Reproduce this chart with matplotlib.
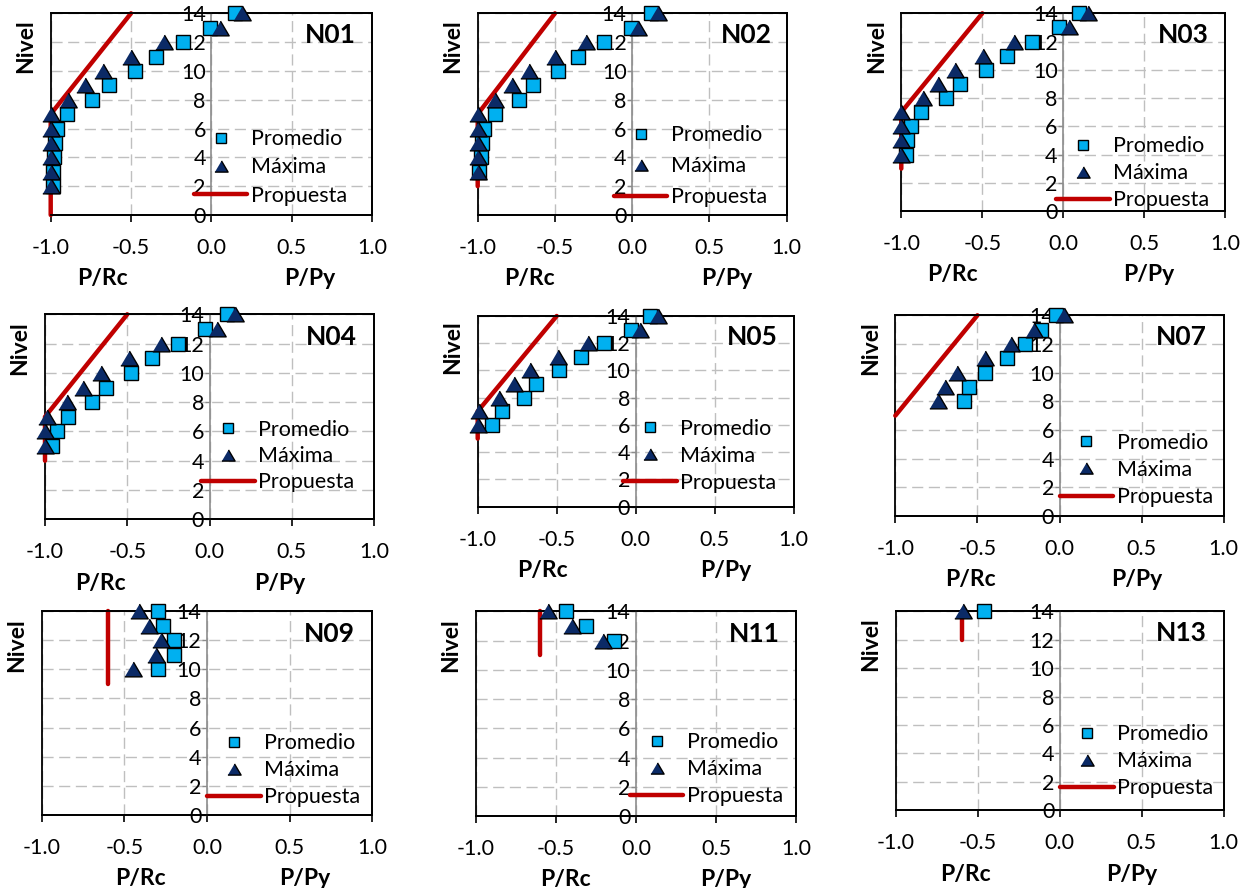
import matplotlib
matplotlib.use("Agg")
import matplotlib.pyplot as plt
from matplotlib.patches import Rectangle
from matplotlib.lines import Line2D
import matplotlib.transforms as mtransforms

plt.rcParams['font.family'] = ['Lato', 'DejaVu Sans']

# ---- data ----
names = ["N01", "N02", "N03", "N04", "N05", "N07", "N09", "N11", "N13"]

niveles = [
    list(range(2, 15)),
    list(range(3, 15)),
    list(range(4, 15)),
    list(range(5, 15)),
    list(range(6, 15)),
    list(range(8, 15)),
    list(range(10, 15)),
    list(range(12, 15)),
    [14],
]

promedio = [
    [-0.985, -0.985, -0.98, -0.975, -0.96, -0.90, -0.745, -0.64, -0.475, -0.345, -0.175, -0.01, 0.147],
    [-0.99, -0.98, -0.97, -0.96, -0.89, -0.735, -0.64, -0.48, -0.35, -0.18, -0.01, 0.12],
    [-0.97, -0.965, -0.94, -0.877, -0.724, -0.636, -0.477, -0.348, -0.193, -0.025, 0.099],
    [-0.96, -0.93, -0.862, -0.716, -0.629, -0.48, -0.348, -0.19, -0.027, 0.104],
    [-0.909, -0.846, -0.709, -0.631, -0.483, -0.346, -0.198, -0.03, 0.093],
    [-0.584, -0.553, -0.456, -0.32, -0.208, -0.113, -0.02],
    [-0.294, -0.20, -0.20, -0.264, -0.294],
    [-0.135, -0.3125, -0.4375],
    [-0.461],
]

maxima = [
    [-1.0, -1.0, -1.0, -1.0, -1.0, -1.0, -0.894, -0.786, -0.676, -0.50, -0.295, 0.054, 0.193],
    [-1.0, -1.0, -1.0, -1.0, -1.0, -0.886, -0.78, -0.67, -0.50, -0.30, 0.04, 0.165],
    [-1.0, -1.0, -1.0, -1.0, -0.868, -0.774, -0.667, -0.496, -0.302, 0.033, 0.152],
    [-1.0, -1.0, -0.985, -0.864, -0.767, -0.662, -0.49, -0.295, 0.044, 0.155],
    [-1.0, -0.99, -0.863, -0.772, -0.667, -0.494, -0.30, 0.027, 0.139],
    [-0.74, -0.70, -0.624, -0.452, -0.296, -0.157, 0.03],
    [-0.45, -0.31, -0.28, -0.35, -0.41],
    [-0.208, -0.40, -0.552],
    [-0.593],
]

prop_x = [
    [-1.0, -1.0, -0.5],
    [-1.0, -1.0, -0.5],
    [-1.0, -1.0, -0.5],
    [-1.0, -1.0, -0.5],
    [-1.0, -1.0, -0.5],
    [-1.0, -0.5],
    [-0.6, -0.6],
    [-0.6, -0.6],
    [-0.6, -0.6],
]
prop_y = [
    [0, 7, 14],
    [2, 7, 14],
    [3, 7, 14],
    [4, 7, 14],
    [5, 7, 14],
    [7, 14],
    [9, 14],
    [11, 14],
    [12, 14],
]

xticks = [-1.0, -0.5, 0.0, 0.5, 1.0]
yticks = list(range(0, 15, 2))

# ---- layout (pixels of the 1248x888 picture) ----
W, H = 1248, 888
# left, right, top, bottom of each plot frame
boxes = [
    (50.7, 372, 13.3, 215), (477.7, 786.7, 13.3, 215), (901.3, 1225.3, 13.3, 211),
    (45, 374, 314.3, 519.3), (477.7, 793.7, 316, 506.7), (895.3, 1223.7, 315.3, 516),
    (41.7, 372.3, 611.3, 814.7), (476, 796, 611.3, 816), (896, 1223.7, 611.3, 810.3),
]
# legend: left x (data), y of "Propuesta" row (data), row pitch (px)
legend_pos = [
    (-0.11, 1.43, 28), (-0.12, 1.32, 31), (-0.045, 0.85, 27),
    (-0.05, 2.62, 26), (-0.08, 1.83, 27), (0.0, 1.40, 27),
    (0.0, 1.28, 27), (-0.04, 1.41, 27), (0.0, 1.64, 27),
]
# x positions (data) of the "P/Rc" and "P/Py" labels
xlab_pos = [
    (-0.68, 0.61), (-0.665, 0.61), (-0.687, 0.53),
    (-0.66, 0.43), (-0.59, 0.57), (-0.54, 0.47),
    (-0.40, 0.59), (-0.44, 0.56), (-0.575, 0.44),
]

c_prom = '#00B0F0'
c_max = '#0B2A66'
c_prop = '#C00000'
c_grid = '#BFBFBF'
tri = [(-1.18, -1), (1.18, -1), (0, 1)]   # Excel-like wide triangle
fs = 15.5

fig = plt.figure(figsize=(W / 100, H / 100), dpi=100)

for i, name in enumerate(names):
    l, r, t, b = boxes[i]
    ax = fig.add_axes([l / W, 1 - b / H, (r - l) / W, (b - t) / H])
    ax.set_xlim(-1, 1)
    ax.set_ylim(0, 14)
    ax.set_xticks(xticks)
    ax.set_xticklabels(["%.1f" % v for v in xticks])
    ax.set_yticks(yticks)

    ax.grid(True, ls=(0, (8, 4)), color=c_grid, lw=1.0)
    ax.set_axisbelow(True)

    for s in ['top', 'right', 'bottom']:
        ax.spines[s].set_color('black')
        ax.spines[s].set_linewidth(1.3)
    ax.spines['left'].set_position(('data', 0))
    ax.spines['left'].set_color('#8C8C8C')
    ax.spines['left'].set_linewidth(1.2)
    ax.add_patch(Rectangle((0, 0), 1, 1, transform=ax.transAxes, fill=False,
                           ec='black', lw=1.3, zorder=1.6, clip_on=False))

    ax.tick_params(axis='x', direction='out', length=5, width=1.2, color='black',
                   labelsize=fs, pad=11.5)
    ax.tick_params(axis='y', direction='out', length=3.5, width=1.0, color='#8C8C8C',
                   labelsize=fs, pad=0.5)

    ax.plot(prop_x[i], prop_y[i], color=c_prop, lw=3.2, solid_capstyle='round',
            zorder=2, clip_on=False)
    ax.plot(promedio[i], niveles[i], 's', ms=10, mfc=c_prom, mec='black', mew=1.0,
            clip_on=False, zorder=3)
    ax.plot(maxima[i], niveles[i], ls='none', marker=tri, ms=12.5, mfc=c_max,
            mec='black', mew=1.0, clip_on=False, zorder=4)

    handles = [
        Line2D([], [], ls='none', marker='s', ms=7.5, mfc=c_prom, mec='black', mew=1.0),
        Line2D([], [], ls='none', marker=tri, ms=9.5, mfc=c_max, mec='black', mew=1.0),
        Line2D([], [], color=c_prop, lw=3.2, solid_capstyle='round'),
    ]
    lx, ly, pitch = legend_pos[i]
    anchor_tr = mtransforms.offset_copy(ax.transData, fig=fig, y=-8, units='points')
    ax.legend(handles, ["Promedio", "Máxima", "Propuesta"], loc='lower left',
              bbox_to_anchor=(lx, ly), bbox_transform=anchor_tr, frameon=False,
              fontsize=fs, borderpad=0, borderaxespad=0, handlelength=2.5,
              handletextpad=0.15, labelspacing=(pitch - 20) / 21.5)

    ax.text(0.87, 0.89, name, transform=ax.transAxes, ha='center', va='center',
            fontsize=19, fontweight='bold')

    rc_x, py_x = xlab_pos[i]
    for xv, txt in [(rc_x, "P/Rc"), (py_x, "P/Py")]:
        ax.annotate(txt, xy=(xv, 0), xycoords=('data', 'axes fraction'),
                    xytext=(0, -46), textcoords='offset points', ha='center',
                    va='center', fontsize=16.5, fontweight='bold', annotation_clip=False)
    ax.annotate("Nivel", xy=(0, 11.7), xycoords=('axes fraction', 'data'),
                xytext=(-18, 0), textcoords='offset points', ha='center', va='center',
                rotation=90, fontsize=16.5, fontweight='bold', annotation_clip=False)

fig.savefig("out.png", dpi=100)
